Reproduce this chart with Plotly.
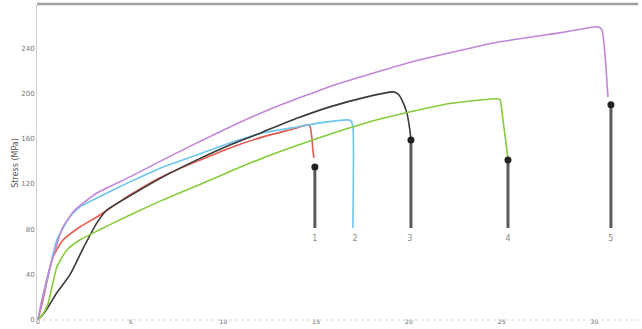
import plotly.graph_objects as go

# Specimen curves: strain (%) and stress (MPa)
s1_strain = [0, 0.27, 0.81, 1.35, 2.26, 3.18, 4.96, 6.74, 8.57, 10.35, 12.13, 13.96, 14.50, 14.66, 14.77, 14.82, 14.88]
s1_stress = [0, 17.7, 55.6, 70.6, 82.1, 90.9, 110.4, 127.0, 140.0, 151.9, 161.6, 169.5, 172.2, 171.3, 160.7, 150.1, 143.0]

s2_strain = [0, 0.22, 0.49, 1.02, 1.73, 2.26, 3.18, 4.96, 6.74, 8.57, 10.35, 12.13, 13.96, 15.20, 16.71, 16.87, 16.98, 16.98]
s2_stress = [0, 17.7, 35.3, 70.6, 91.0, 99.8, 107.7, 121.9, 135.1, 145.7, 156.3, 165.1, 170.4, 174.0, 176.6, 175.7, 170.4, 81.2]

s3_strain = [0, 0.38, 1.02, 1.73, 2.43, 3.18, 3.72, 4.96, 6.74, 8.57, 10.35, 12.13, 13.96, 15.74, 17.74, 19.14, 19.41, 19.62, 19.89, 20.05, 20.11]
s3_stress = [0, 7.1, 24.0, 40.0, 63.0, 85.7, 97.1, 109.5, 126.3, 141.3, 154.5, 166.0, 178.0, 188.1, 196.9, 201.3, 199.5, 194.3, 182.8, 167.8, 158.9]

s4_strain = [0, 0.27, 0.54, 1.02, 1.56, 2.26, 3.18, 4.96, 6.74, 8.57, 10.35, 12.13, 13.96, 15.74, 18.60, 22.21, 24.74, 24.91, 25.07, 25.28, 25.34]
s4_stress = [0, 5.3, 14.0, 46.8, 61.8, 70.6, 78.5, 92.7, 106.0, 118.5, 131.0, 143.0, 154.0, 164.0, 178.0, 191.0, 195.3, 194.3, 176.6, 150.1, 141.3]

s5_strain = [0, 0.22, 0.65, 1.35, 1.99, 3.18, 4.96, 6.74, 8.57, 10.35, 12.51, 15.90, 20.43, 24.91, 28.14, 30.20, 30.41, 30.57, 30.73]
s5_stress = [0, 17.7, 46.8, 82.1, 97.1, 112.1, 126.3, 141.3, 156.3, 170.4, 186.0, 207.0, 229.0, 245.5, 253.4, 258.7, 256.0, 234.0, 196.9]

# Break markers / pointer annotations
specimen_labels = ["1", "2", "3", "4", "5"]
label_strain = [14.93, 17.09, 20.05, 25.34, 30.89]
marker_strain = [14.93, None, 20.11, 25.34, 30.89]
marker_stress = [135.1, None, 158.9, 141.3, 190.0]
pointer_bottom = 81.2
label_stress = 71.5

y_ticks = [0, 40, 80, 120, 160, 200, 240]
x_ticks = [0, 5, 10, 15, 20, 25, 30]

colors = ["#e35a4f", "#6cc6ee", "#3a3a3a", "#86cc3a", "#c386d6"]
series = [(s1_strain, s1_stress), (s2_strain, s2_stress), (s3_strain, s3_stress),
          (s4_strain, s4_stress), (s5_strain, s5_stress)]

fig = go.Figure()

# pointer lines
for mx, my in zip(marker_strain, marker_stress):
    if mx is None:
        continue
    fig.add_trace(go.Scatter(x=[mx, mx], y=[my, pointer_bottom], mode="lines",
                             line=dict(color="#5a5a5a", width=3), showlegend=False,
                             hoverinfo="skip"))

for (xs, ys), c in zip(series, colors):
    fig.add_trace(go.Scatter(x=xs, y=ys, mode="lines",
                             line=dict(color=c, width=1.6, shape="spline", smoothing=0.5),
                             showlegend=False))

mx_f = [m for m in marker_strain if m is not None]
my_f = [m for m in marker_stress if m is not None]
fig.add_trace(go.Scatter(x=mx_f, y=my_f, mode="markers",
                         marker=dict(color="#222222", size=7), showlegend=False))

fig.add_trace(go.Scatter(x=label_strain, y=[label_stress] * len(label_strain), mode="text",
                         text=specimen_labels, textfont=dict(size=8, color="#8a8a8a"),
                         showlegend=False))

# top border
fig.add_shape(type="line", xref="paper", yref="paper", x0=0, x1=1, y0=1.003, y1=1.003,
              line=dict(color="#a0a0a0", width=2.5))
# bottom dotted axis
fig.add_shape(type="line", xref="paper", yref="paper", x0=0, x1=1, y0=0, y1=0,
              line=dict(color="#d8d8d8", width=1, dash="dot"))

fig.add_annotation(text="Stress (MPa)", xref="paper", yref="paper", x=-0.047, y=0.5,
                   textangle=-90, showarrow=False, font=dict(size=8, color="#555555"))

fig.update_layout(
    width=642, height=329,
    margin=dict(l=37, r=4, t=5, b=9),
    paper_bgcolor="white", plot_bgcolor="white",
    template="none",
    font=dict(family="DejaVu Sans", color="#777777"),
)
fig.update_xaxes(range=[-0.05, 32.35], tickvals=x_ticks, ticktext=[str(v) for v in x_ticks],
                 showgrid=False, zeroline=False, showline=False, automargin=False,
                 tickfont=dict(size=6, color="#666666"), ticks="", ticklabelstandoff=-3)
fig.update_yaxes(range=[0, 278], tickvals=y_ticks, ticktext=[str(v) for v in y_ticks],
                 showgrid=False, zeroline=False, showline=True, linecolor="#cfcfcf", linewidth=1,
                 automargin=False, tickfont=dict(size=7, color="#777777"), ticks="")

fig.write_html("out.html", config={"displayModeBar": False},
               post_script="document.body.style.margin='0';")
